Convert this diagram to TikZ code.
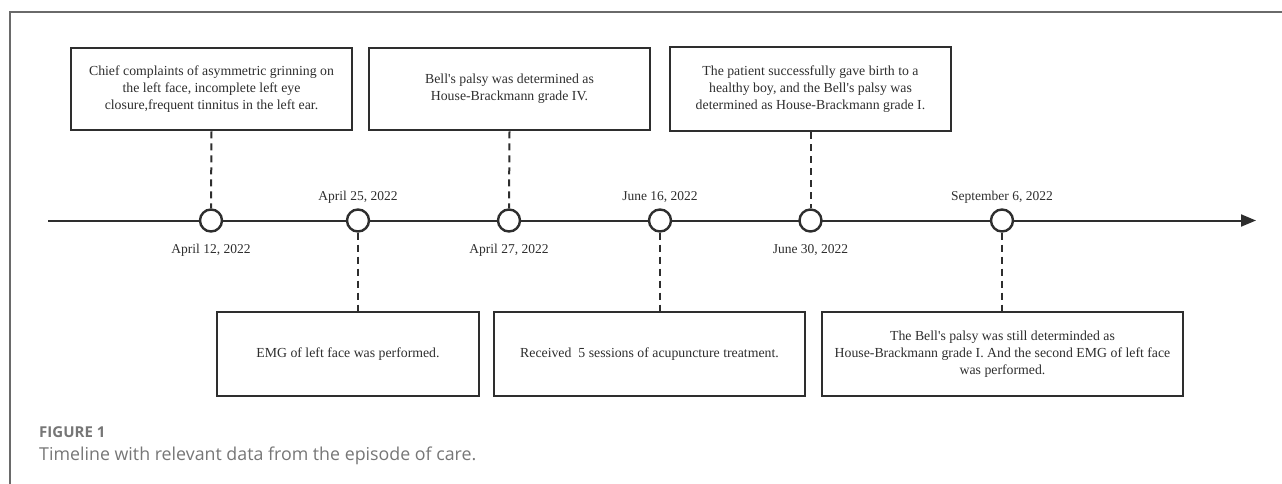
\documentclass[tikz,border=0pt]{standalone}
\usepackage{fontspec}
\setmainfont{Liberation Serif}
\newfontfamily\capfont{Open Sans}
\usepackage{tikz}
\usetikzlibrary{                          % TikZ libraries
                arrows.meta,              % .
                calc}
\definecolor{inkgray}{HTML}{2E2E2E}
\definecolor{framegray}{HTML}{6A6A6A}
\definecolor{capgray}{HTML}{767676}

\begin{document}
\begin{tikzpicture}[x=1pt,y=-1pt
                    ]
                % define styles
\tikzset{event/.style={circle,
                       draw=inkgray,
                       fill=white,
                       line width=2.4pt,
                       inner sep=0,
                       minimum size=22pt,
                       },
         note/.style={rectangle,
                       draw=inkgray,
                       line width=2.6pt,
                       align=center,
                       inner sep=0,
                       minimum height=82pt,
                       font=\fontsize{13.8}{17}\selectfont,
                       text=inkgray,
                       },
         date/.style={font=\fontsize{13.5}{15}\selectfont,
                       text=inkgray,
                       },
         link/.style={draw=inkgray,
                       line width=2pt,
                       dash pattern=on 7pt off 5pt,
                       }
}

\useasboundingbox (0,0) rectangle (1282,484);

% frame
\draw[framegray,line width=1.3pt] (10,484) -- (10,12) -- (1282,12);

% time axis
\coordinate (tstart) at (48,220.5);
\coordinate (tend)   at (1256,220.5);
\draw[inkgray,line width=2pt,-{Triangle[length=15pt,width=12pt]}] (tstart) -- (tend);

% nodes
\foreach \name/\xpos in {ev1/211, ev2/358, ev3/509, ev4/660, ev5/810.5, ev6/1002}
    \node[event] (\name) at (\xpos,220.5) {};

% boxes above the axis
\node[note,minimum width=281pt] (top1) at (211.5,89)
    {Chief complaints of asymmetric grinning on\\
     the left face, incomplete left eye\\
     closure,frequent tinnitus in the left ear.};
\node[note,minimum width=281pt] (top2) at (509.5,89)
    {Bell\textquotesingle s palsy was determined as\\
     House-Brackmann grade IV.};
\node[note,minimum width=281pt,minimum height=84pt] (top3) at (810.5,89)
    {The patient successfully gave birth to a\\
     healthy boy, and the Bell\textquotesingle s palsy was\\
     determined as House-Brackmann grade I.};

% boxes below the axis
\node[note,minimum width=262pt,minimum height=84pt] (bot1) at (348,354)
    {EMG of left face was performed.};
\node[note,minimum width=311pt,minimum height=84pt] (bot2) at (649.5,354)
    {Received\ \ 5 sessions of acupuncture treatment.};
\node[note,minimum width=361pt,minimum height=84pt] (bot3) at (1002.5,354)
    {The Bell\textquotesingle s palsy was still determinded as\\
     House-Brackmann grade I. And the second EMG of left face\\
     was performed.};

% connectors
\draw[link] (top1.south) -- (ev1.north);
\draw[link] (top2.south) -- (ev3.north);
\draw[link] (top3.south) -- (ev5.north);
\draw[link] (ev2.south) -- (ev2.south |- bot1.north);
\draw[link] (ev4.south) -- (ev4.south |- bot2.north);
\draw[link] (ev6.south) -- (ev6.south |- bot3.north);

% labels
\node[date] at (211,250) {April 12, 2022};
\node[date] at (358,197) {April 25, 2022};
\node[date] at (509,250) {April 27, 2022};
\node[date] at (660,197) {June 16, 2022};
\node[date] at (810.5,250) {June 30, 2022};
\node[date] at (1002,197) {September 6, 2022};

% caption
\node[anchor=base west,inner sep=0,text=capgray,font=\capfont\bfseries\fontsize{15}{17}\selectfont] (fig) at (39,437) {FIGURE 1};
\node[anchor=base west,inner sep=0,text=capgray,font=\capfont\fontsize{17.8}{20}\selectfont] (cap) at (39,460) {Timeline with relevant data from the episode of care.};

            \end{tikzpicture}
\end{document}
